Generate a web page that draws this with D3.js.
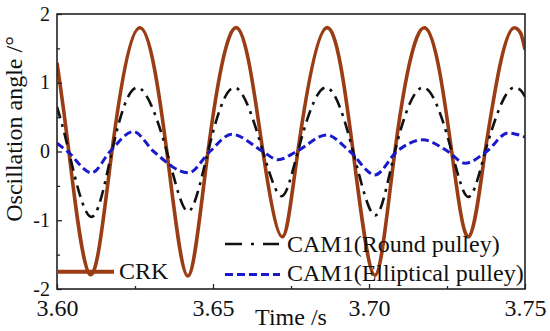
<!DOCTYPE html>
<html>
<head>
<meta charset="utf-8">
<script src="https://cdn.jsdelivr.net/npm/d3@7"></script>
<style>
  html, body { margin: 0; padding: 0; background: #fff; }
  svg { display: block; }
  text { font-family: "Liberation Serif", "Times New Roman", serif; fill: #111; }
</style>
</head>
<body>
<svg id="chart" width="550" height="331"></svg>
<script>
// ---- data ----
const xTicks = [3.60, 3.65, 3.70, 3.75];
const xMinorTicks = [3.625, 3.675, 3.725];
const yTicks = [-2, -1, 0, 1, 2];
const yMinorTicks = [-1.5, -0.5, 0.5, 1.5];

const crkTime = [3.600, 3.6038, 3.6106, 3.6176, 3.6266, 3.6352, 3.6419, 3.6484, 3.6576, 3.6660, 3.6722, 3.6772, 3.6864, 3.6949, 3.7019, 3.7083, 3.7179, 3.7265, 3.7320, 3.7372, 3.7466, 3.7486, 3.750];
const crkValue = [1.29, 0, -1.79, 0, 1.80, 0, -1.81, 0, 1.80, 0, -1.24, 0, 1.80, 0, -1.80, 0, 1.80, 0, -1.24, 0, 1.80, 1.72, 1.48];

const roundTime = [3.600, 3.6038, 3.6108, 3.6176, 3.6258, 3.6352, 3.6420, 3.6484, 3.6570, 3.6660, 3.6720, 3.6772, 3.6860, 3.6949, 3.7020, 3.7083, 3.7175, 3.7265, 3.7320, 3.7372, 3.7466, 3.7486, 3.750];
const roundValue = [0.65, 0, -0.95, 0, 0.93, 0, -0.87, 0, 0.93, 0, -0.65, 0, 0.93, 0, -0.93, 0, 0.93, 0, -0.66, 0, 0.93, 0.89, 0.80];

const ellTime = [3.600, 3.6034, 3.6111, 3.6170, 3.6245, 3.6310, 3.6422, 3.6490, 3.6560, 3.6660, 3.6708, 3.6768, 3.6864, 3.6939, 3.7019, 3.7089, 3.7173, 3.7253, 3.7308, 3.7377, 3.7446, 3.750];
const ellValue = [0.12, 0, -0.31, 0, 0.29, 0, -0.31, 0, 0.25, 0, -0.12, 0, 0.24, 0, -0.34, 0, 0.17, 0, -0.17, 0, 0.27, 0.21];

const seriesNames = ["CRK", "CAM1(Round pulley)", "CAM1(Elliptical pulley)"];
const xTitle = "Time /s";
const yTitle = "Oscillation angle /°";

// ---- layout ----
const L = 57, R = 525, T = 14, B = 289;
const svg = d3.select("#chart");
const x = d3.scaleLinear().domain([3.60, 3.75]).range([L, R]);
const y = d3.scaleLinear().domain([-2, 2]).range([B, T]);

svg.append("defs").append("clipPath").attr("id", "clip")
  .append("rect").attr("x", L).attr("y", T).attr("width", R - L).attr("height", B - T);

const toPts = (ts, vs) => ts.map((t, i) => [t, vs[i]]);
const lineGen = (curve) => d3.line().x(d => x(d[0])).y(d => y(d[1])).curve(curve);

// natural spline through the interior (ends at a zero crossing), monotone tail
function pathD(pts, splitAt) {
  const a = pts.slice(0, splitAt + 1);
  const b = pts.slice(splitAt);
  const dA = lineGen(d3.curveNatural)(a);
  const dB = lineGen(d3.curveMonotoneX)(b);
  return dA + dB.replace(/^M[^A-Za-z]*/, "");
}

const g = svg.append("g").attr("clip-path", "url(#clip)");
const crkPts = toPts(crkTime, crkValue);
g.append("path")
  .attr("d", pathD(crkPts, crkTime.indexOf(3.7372))).attr("fill", "none")
  .attr("stroke", "#9a3d14").attr("stroke-width", 3.6).attr("stroke-linejoin", "round");
const roundPts = toPts(roundTime, roundValue);
g.append("path")
  .attr("d", pathD(roundPts, roundTime.indexOf(3.7372))).attr("fill", "none")
  .attr("stroke", "#111").attr("stroke-width", 2.6)
  .attr("stroke-dasharray", "12,6,3,6");
g.append("path").datum(toPts(ellTime, ellValue))
  .attr("d", lineGen(d3.curveMonotoneX)).attr("fill", "none")
  .attr("stroke", "#1a1acc").attr("stroke-width", 3)
  .attr("stroke-dasharray", "8,4");

// ---- axes ----
const xAxis = svg.append("g").attr("transform", `translate(0,${B})`)
  .call(d3.axisBottom(x).tickValues(xTicks).tickSizeInner(-5).tickSizeOuter(0)
    .tickPadding(10).tickFormat(d3.format(".2f")));
const xMinor = svg.append("g").attr("transform", `translate(0,${B})`)
  .call(d3.axisBottom(x).tickValues(xMinorTicks).tickSizeInner(-3).tickSizeOuter(0).tickFormat(""));
const yAxis = svg.append("g").attr("transform", `translate(${L},0)`)
  .call(d3.axisLeft(y).tickValues(yTicks).tickSizeInner(-5).tickSizeOuter(0)
    .tickPadding(7).tickFormat(d => String(d)));
const yMinor = svg.append("g").attr("transform", `translate(${L},0)`)
  .call(d3.axisLeft(y).tickValues(yMinorTicks).tickSizeInner(-3).tickSizeOuter(0).tickFormat(""));

[xAxis, xMinor, yAxis, yMinor].forEach(a => {
  a.select(".domain").remove();
  a.selectAll("line").attr("stroke", "#222").attr("stroke-width", 1.3);
  a.selectAll("text").attr("font-family", "Liberation Serif").attr("fill", "#111");
});
xAxis.selectAll("text").attr("font-size", 24);
yAxis.selectAll("text").attr("font-size", 20).attr("dy", "0.3em");

svg.append("rect").attr("x", L).attr("y", T).attr("width", R - L).attr("height", B - T)
  .attr("fill", "none").attr("stroke", "#222").attr("stroke-width", 1.6);

// ---- titles ----
svg.append("text").attr("x", (L + R) / 2).attr("y", 325).attr("text-anchor", "middle")
  .attr("font-size", 24).text(xTitle);
svg.append("text").attr("transform", "translate(22,129) rotate(-90)").attr("text-anchor", "middle")
  .attr("font-size", 24).text(yTitle);

// ---- legend ----
svg.append("line").attr("x1", L).attr("x2", 114).attr("y1", 271.7).attr("y2", 271.7)
  .attr("stroke", "#9a3d14").attr("stroke-width", 4);
svg.append("text").attr("x", 119).attr("y", 279).attr("font-size", 24).text(seriesNames[0]);

svg.append("line").attr("x1", 225).attr("x2", 279).attr("y1", 244).attr("y2", 244)
  .attr("stroke", "#111").attr("stroke-width", 2.6).attr("stroke-dasharray", "17,9,3,9,16");
svg.append("text").attr("x", 287).attr("y", 252).attr("font-size", 24).text(seriesNames[1]);

svg.append("line").attr("x1", 225).attr("x2", 280).attr("y1", 274.5).attr("y2", 274.5)
  .attr("stroke", "#1a1acc").attr("stroke-width", 3).attr("stroke-dasharray", "8,4");
svg.append("text").attr("x", 287).attr("y", 280.5).attr("font-size", 24).text(seriesNames[2]);
</script>
</body>
</html>
